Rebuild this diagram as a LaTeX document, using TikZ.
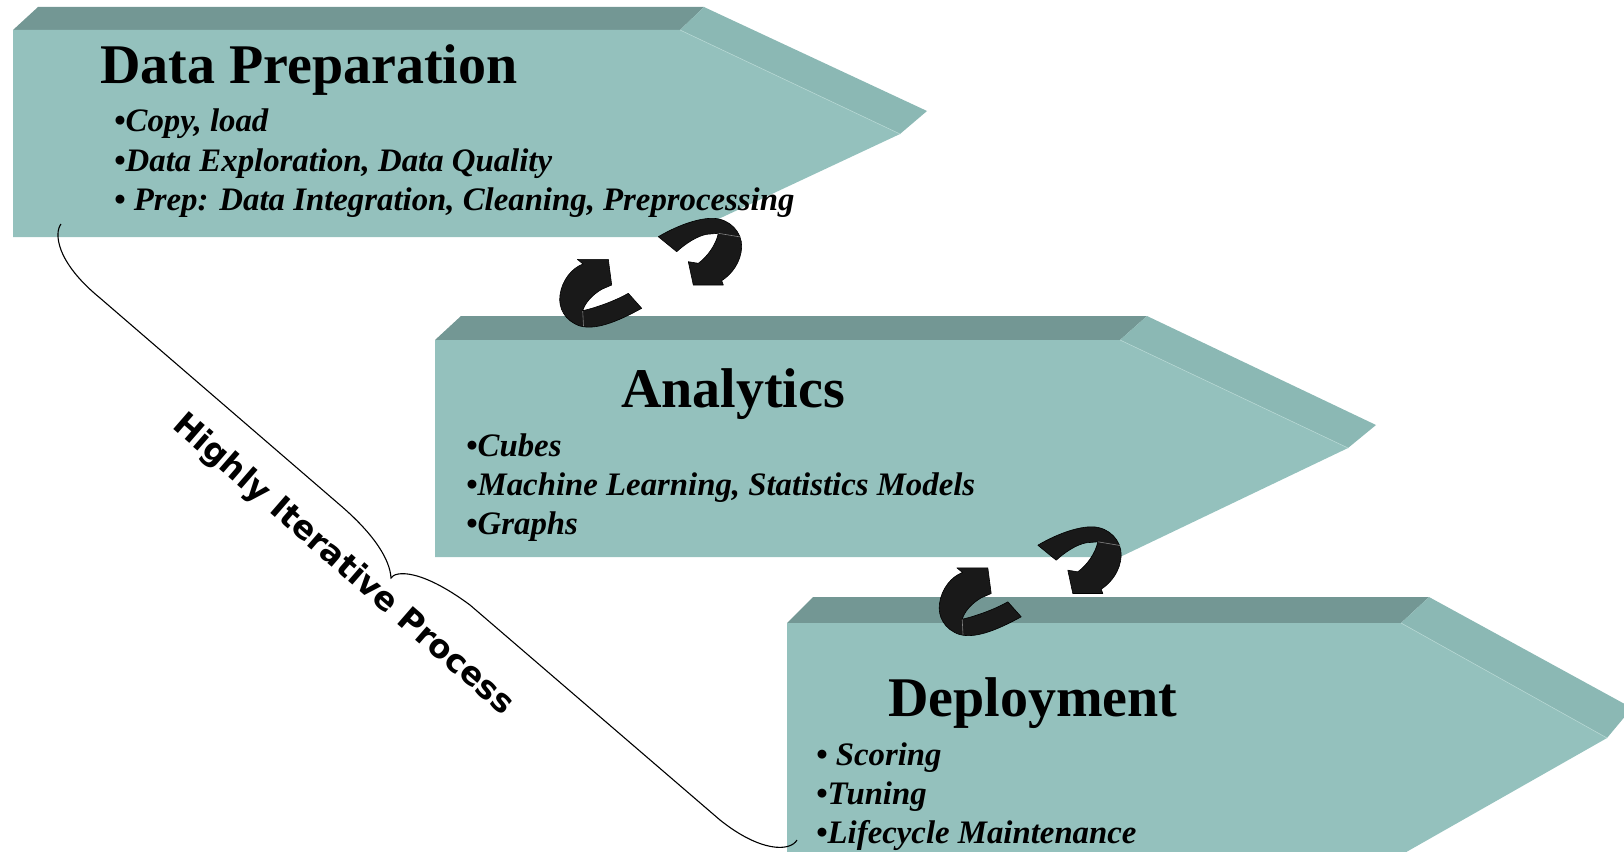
\documentclass[tikz,border=0pt]{standalone}
\usepackage{fontspec}
\setmainfont{Liberation Serif}
\newfontfamily\labelfont{DejaVu Sans}
\definecolor{frontc}{HTML}{94C1BD}
\definecolor{topc}{HTML}{739794}
\definecolor{sidec}{HTML}{8BB8B4}
\definecolor{hlc}{HTML}{B4D6D2}
\begin{document}
\begin{tikzpicture}[x=1pt,y=-1pt,
  titletext/.style={anchor=base west, inner sep=0pt, font=\fontsize{56}{60}\selectfont\bfseries},
  itemtext/.style={anchor=base west, inner sep=0pt, font=\fontsize{32.8}{39}\selectfont\bfseries\itshape},
  cyc/.style={fill=black!90, draw=black, line width=0.6pt, line join=round},
  foldline/.style={draw=black!50, line width=0.6pt},
  hl/.style={draw=hlc, line width=0.6pt},
  bracepath/.style={draw=black, line width=1.1pt},
  sidelabel/.style={font=\labelfont\bfseries\fontsize{32.5}{38}\selectfont, rotate=-41, inner sep=0pt},
  cyclepair/.pic={
    % left arrow
    \path[cyc] (577.3,259.3) -- (608.3,259.3) -- (611.7,285) -- (601.7,289.3)
      .. controls (592,295) and (585,303) .. (582.7,310.7)
      .. controls (595,308) and (615,301) .. (628.3,293.3)
      -- (641.7,308.3)
      .. controls (615,323) and (595,330) .. (580,326)
      .. controls (565,321) and (558,308) .. (560,295)
      .. controls (562,280) and (572,268) .. (583,264) -- cycle;
    \draw[foldline] (582.7,311) -- (583.5,326);
    % right arrow
    \path[cyc] (658.3,236.7)
      .. controls (680,224) and (700,218) .. (713.3,218.3)
      .. controls (730,219) and (742,232) .. (741.7,247)
      .. controls (741,262) and (732,274) .. (721.7,280.7)
      -- (723.3,285) -- (693.3,285) -- (688.3,261.7) -- (698.3,263.3)
      .. controls (707,257) and (716,245) .. (718.3,233.3)
      -- (706.7,234.3)
      .. controls (697,236) and (685,244) .. (676.7,251.7) -- cycle;
    \draw[foldline] (718.3,233.3) -- (740.5,237);
  }]
\useasboundingbox (0,0) rectangle (1624,851);
\clip (0,0) rectangle (1624,851);

% Block 1: Data Preparation
\fill[topc] (13,30) -- (38,7) -- (704,7) -- (680,30) -- cycle;
\fill[sidec] (680,30) -- (704,7) -- (927,111) -- (900,134) -- cycle;
\fill[frontc] (13,30) -- (680,30) -- (900,134) -- (680,237) -- (13,237) -- cycle;
\draw[hl] (680,30) -- (900,134);

% Block 2: Analytics
\fill[topc] (435,340) -- (461,316) -- (1147,316) -- (1120,340) -- cycle;
\fill[sidec] (1120,340) -- (1147,316) -- (1376,425) -- (1348,448) -- cycle;
\fill[frontc] (435,340) -- (1120,340) -- (1348,448) -- (1120,557) -- (435,557) -- cycle;
\draw[hl] (1120,340) -- (1348,448);

% Block 3: Deployment
\fill[topc] (787,623) -- (813,597) -- (1429,597) -- (1401,623) -- cycle;
\fill[sidec] (1401,623) -- (1429,597) -- (1632,708) -- (1607,738) -- cycle;
\fill[frontc] (787,623) -- (1401,623) -- (1607,738) -- (1401,855) -- (787,855) -- cycle;
\draw[hl] (1401,623) -- (1607,738);

% Texts
\node[titletext] (t1) at (100,84) {Data Preparation};
\node[itemtext] (t1a) at (114,131) {•Copy, load};
\node[itemtext] (t1b) at (114,171) {•Data Exploration, Data Quality};
\node[itemtext] (t1c) at (114,210) {• Prep: Data Integration, Cleaning, Preprocessing};

\node[titletext] (t2) at (621,407) {Analytics};
\node[itemtext] (t2a) at (466,456) {•Cubes};
\node[itemtext] (t2b) at (466,495) {•Machine Learning, Statistics Models};
\node[itemtext] (t2c) at (466,534) {•Graphs};

\node[titletext] (t3) at (888,716) {Deployment};
\node[itemtext] (t3a) at (816,765) {• Scoring};
\node[itemtext] (t3b) at (816,804) {•Tuning};
\node[itemtext] (t3c) at (816,843) {•Lifecycle Maintenance};

% Cycle arrows
\pic (ca) at (0,0) {cyclepair};
\pic (cb) at (379.5,308.5) {cyclepair};

% Brace
\coordinate (bs) at (61,224);
\coordinate (bm) at (391,578);
\coordinate (be) at (797,840);
\draw[bracepath] (bs) .. controls (54,233) and (56,262) .. (100,298)
  -- (340,505) .. controls (375,535) and (390,560) .. (bm)
  .. controls (395,571) and (420,568) .. (470,605)
  -- (720,820) .. controls (760,852) and (790,852) .. (be);

\node[sidelabel] (lab) at (343,565) {Highly Iterative Process};
\end{tikzpicture}
\end{document}
